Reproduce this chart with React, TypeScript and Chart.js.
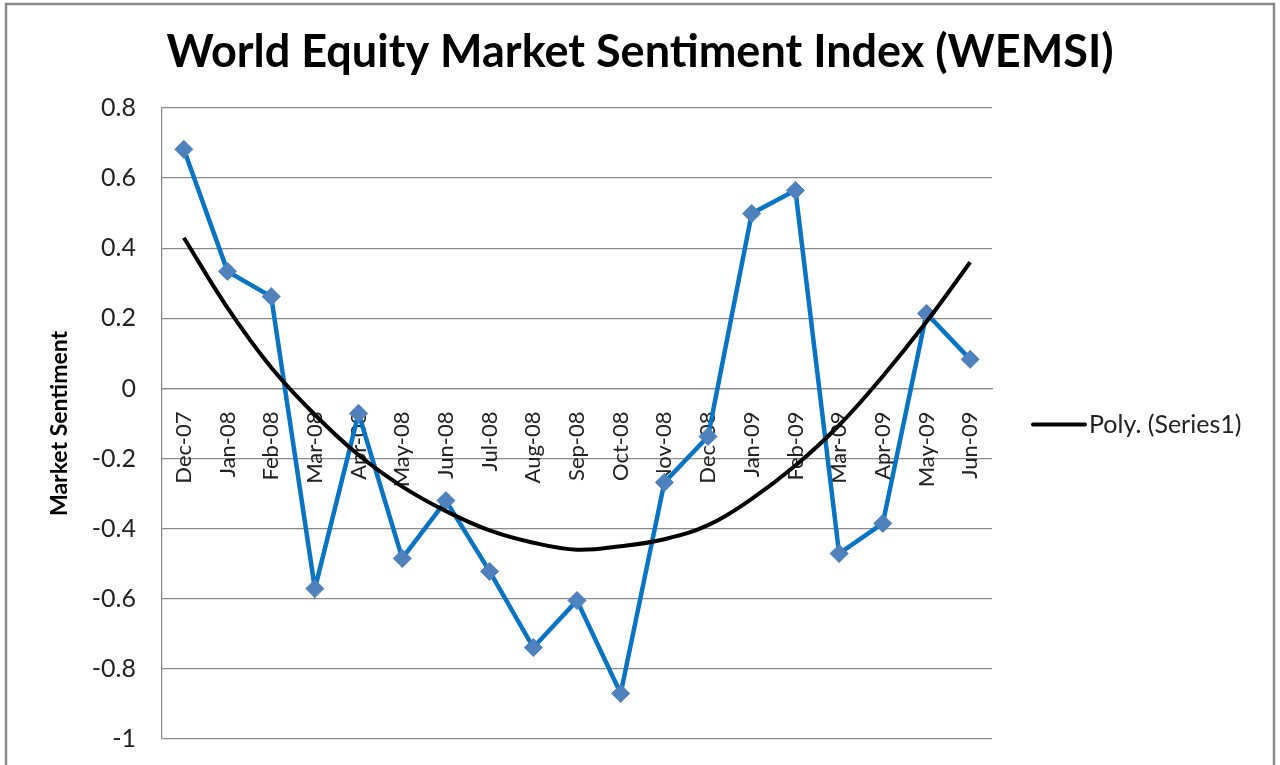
import React, { useEffect, useRef } from "react";
import { Chart, registerables } from "chart.js";

Chart.register(...registerables);

const categories = [
  "Dec-07", "Jan-08", "Feb-08", "Mar-08", "Apr-08", "May-08", "Jun-08", "Jul-08",
  "Aug-08", "Sep-08", "Oct-08", "Nov-08", "Dec-08", "Jan-09", "Feb-09", "Mar-09",
  "Apr-09", "May-09", "Jun-09",
];

const sentiment = [
  0.682, 0.334, 0.262, -0.571, -0.071, -0.485, -0.32, -0.522, -0.739, -0.605,
  -0.87, -0.268, -0.137, 0.499, 0.565, -0.471, -0.385, 0.214, 0.083,
];

const polyTrend = [
  0.43, 0.23, 0.06, -0.075, -0.19, -0.28, -0.35, -0.405, -0.44, -0.46,
  -0.45, -0.43, -0.39, -0.315, -0.22, -0.105, 0.035, 0.19, 0.36,
];

const titleText = "World Equity Market Sentiment Index (WEMSI)";
const yAxisTitle = "Market Sentiment";
const seriesLabel = "Series1";
const trendLabel = "Poly. (Series1)";
const yMin = -1;
const yMax = 0.8;
const yStep = 0.2;

const FONT = "Lato";

const framePlugin = {
  id: "frame",
  beforeDraw(chart: any) {
    const ctx = chart.ctx;
    ctx.save();
    ctx.fillStyle = "#ffffff";
    ctx.fillRect(0, 0, chart.width, chart.height);
    ctx.strokeStyle = "#8a8a8a";
    ctx.lineWidth = 2.5;
    ctx.strokeRect(6, 4, chart.width - 12, chart.height + 20);
    ctx.restore();
  },
};

const legendPlugin = {
  id: "customLegend",
  afterDraw(chart: any) {
    const ctx = chart.ctx;
    const area = chart.chartArea;
    const ds = chart.data.datasets[1];
    const y = (area.top + area.bottom) / 2 + 1;
    const x0 = area.right + 41;
    ctx.save();
    ctx.strokeStyle = ds.borderColor;
    ctx.lineWidth = 4;
    ctx.lineCap = "round";
    ctx.beginPath();
    ctx.moveTo(x0, y);
    ctx.lineTo(x0 + 52, y);
    ctx.stroke();
    ctx.fillStyle = "#222222";
    ctx.font = `25px ${FONT}`;
    ctx.textBaseline = "middle";
    ctx.textAlign = "left";
    ctx.fillText(ds.label, x0 + 56, y);
    ctx.restore();
  },
};

export default function App() {
  const canvasRef = useRef<HTMLCanvasElement | null>(null);

  useEffect(() => {
    if (!canvasRef.current) return;
    const chart = new Chart(canvasRef.current, {
      type: "line",
      data: {
        labels: categories,
        datasets: [
          {
            label: seriesLabel,
            data: sentiment,
            borderColor: "#0a74c4",
            backgroundColor: "#4F81BD",
            borderWidth: 4.5,
            pointStyle: "rectRot",
            pointRadius: 9,
            pointBackgroundColor: "#4F81BD",
            pointBorderColor: "#4F81BD",
            pointBorderWidth: 1,
            tension: 0,
            order: 2,
          },
          {
            label: trendLabel,
            data: polyTrend,
            borderColor: "#000000",
            backgroundColor: "#000000",
            borderWidth: 4,
            pointRadius: 0,
            tension: 0.4,
            order: 1,
          },
        ],
      },
      options: {
        animation: false,
        responsive: false,
        layout: { padding: { left: 0, right: 0, top: 10, bottom: 26 } },
        plugins: {
          legend: { display: false },
          tooltip: { enabled: false },
          title: {
            display: true,
            text: titleText,
            color: "#000000",
            font: { family: FONT, size: 45, weight: "bold" },
            padding: { top: 15, bottom: 29 },
          },
        },
        scales: {
          x: {
            position: { y: 0 } as any,
            offset: true,
            grid: { display: false, drawTicks: false },
            border: { display: true, color: "#8a8a8a", width: 1.3 },
            ticks: {
              autoSkip: false,
              minRotation: 90,
              maxRotation: 90,
              padding: 23,
              color: "#222222",
              font: { family: FONT, size: 22 },
            },
          },
          y: {
            min: yMin,
            max: yMax,
            afterFit: (scale: any) => {
              scale.width = 162;
              scale.paddingTop = 0;
              scale.paddingBottom = 0;
            },
            grid: { color: "#8a8a8a", lineWidth: 1.3, drawTicks: false },
            border: { display: true, color: "#8a8a8a", width: 1.3 },
            ticks: {
              stepSize: yStep,
              padding: 26,
              color: "#222222",
              font: { family: FONT, size: 25 },
              callback: (v: any) => String(Number(Number(v).toFixed(1))),
            },
            title: {
              display: true,
              text: yAxisTitle,
              color: "#000000",
              font: { family: FONT, size: 23, weight: "bold" },
              padding: { top: 46, bottom: 0 },
            },
          },
          spacer: {
            type: "linear",
            position: "right",
            display: true,
            afterFit: (scale: any) => {
              scale.width = 288;
              scale.paddingTop = 0;
              scale.paddingBottom = 0;
            },
            grid: { display: false, drawTicks: false },
            border: { display: false },
            ticks: { display: false },
          },
        },
      },
      plugins: [framePlugin, legendPlugin],
    });
    return () => chart.destroy();
  }, []);

  return (
    <div style={{ position: "absolute", left: 0, top: 0, width: 1280, height: 765 }}>
      <canvas ref={canvasRef} width={1280} height={765} style={{ display: "block" }} />
    </div>
  );
}
